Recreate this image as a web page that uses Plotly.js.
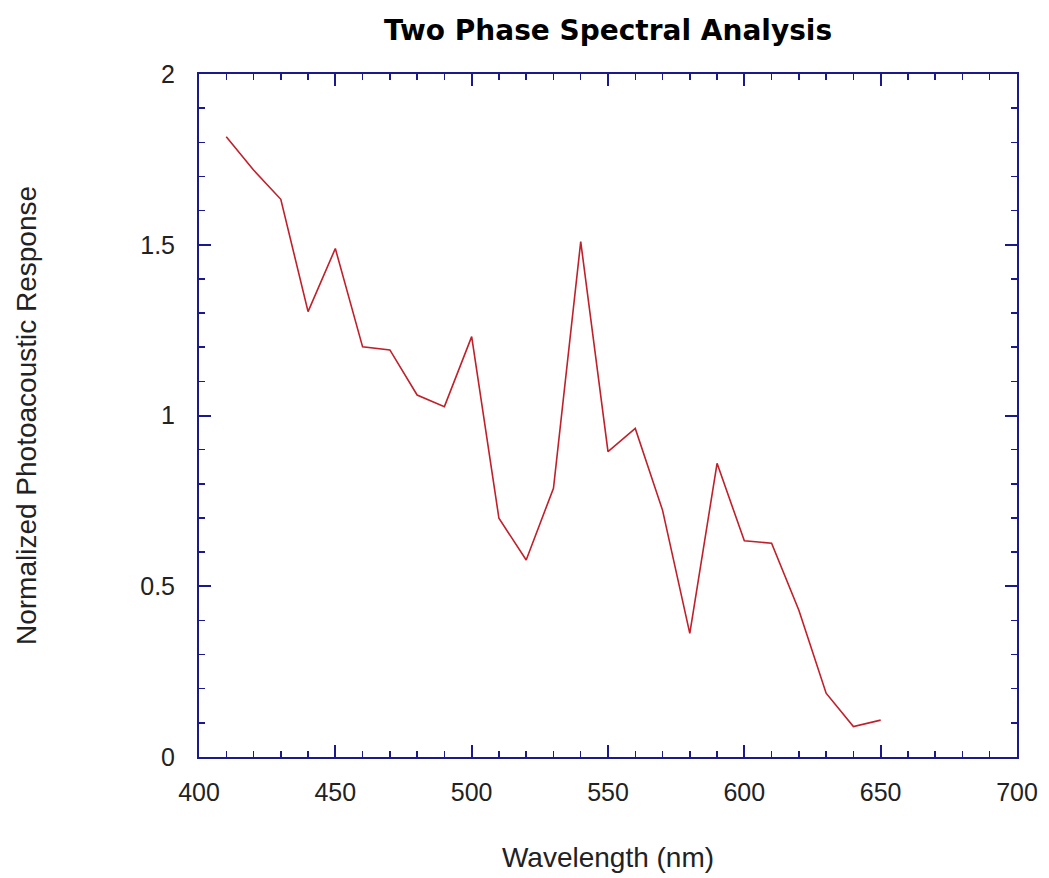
<!DOCTYPE html>
<html>
<head>
<meta charset="utf-8">
<script src="https://cdn.plot.ly/plotly-3.0.1.min.js"></script>
<style>
  html, body { margin: 0; padding: 0; background: #ffffff; }
  #chart { width: 1049px; height: 878px; }
</style>
</head>
<body>
<div id="chart"></div>
<script>
const wavelengths = [410, 420, 430, 440, 450, 460, 470, 480, 490, 500, 510, 520, 530,
                     540, 550, 560, 570, 580, 590, 600, 610, 620, 630, 640, 650];
const response = [1.816, 1.719, 1.633, 1.304, 1.489, 1.201, 1.192, 1.060, 1.026, 1.231,
                  0.699, 0.577, 0.787, 1.509, 0.894, 0.962, 0.723, 0.362, 0.860, 0.633,
                  0.626, 0.430, 0.187, 0.089, 0.108];
const xTickVals = [400, 450, 500, 550, 600, 650, 700];
const yTickVals = [0, 0.5, 1, 1.5, 2];
const yTickText = ['0', '0.5', '1', '1.5', '2'];

const axisColor = '#1a1a8c';
const tickFont = { family: 'Liberation Sans, Arial, sans-serif', size: 25, color: '#222222' };

const trace = {
  x: wavelengths,
  y: response,
  type: 'scatter',
  mode: 'lines',
  line: { color: '#c0202a', width: 1.6 },
  hoverinfo: 'skip'
};

const layout = {
  width: 1049,
  height: 878,
  paper_bgcolor: '#ffffff',
  plot_bgcolor: '#ffffff',
  showlegend: false,
  margin: { l: 199, r: 32, t: 74, b: 121 },
  title: {
    text: 'Two Phase Spectral Analysis',
    font: { family: 'DejaVu Sans, sans-serif', size: 28, color: '#000000', weight: 'bold' },
    x: 0.5, xref: 'paper', xanchor: 'center',
    y: 1 - 30 / 878, yref: 'container', yanchor: 'middle'
  },
  xaxis: {
    range: [400, 700],
    tickmode: 'array',
    tickvals: xTickVals,
    ticktext: xTickVals.map(String),
    ticks: 'inside',
    ticklen: 12,
    tickwidth: 2,
    tickcolor: axisColor,
    minor: { dtick: 10, ticks: 'inside', ticklen: 6, tickwidth: 1.5, tickcolor: axisColor, showgrid: false },
    showline: true,
    linecolor: axisColor,
    linewidth: 2,
    mirror: 'allticks',
    showgrid: false,
    zeroline: false,
    tickfont: tickFont,
    ticklabelstandoff: 12,
    title: {
      text: 'Wavelength (nm)',
      font: { family: 'Liberation Sans, Arial, sans-serif', size: 28, color: '#222222' },
      standoff: 42
    }
  },
  yaxis: {
    range: [0, 2],
    tickmode: 'array',
    tickvals: yTickVals,
    ticktext: yTickText,
    ticks: 'inside',
    ticklen: 12,
    tickwidth: 2,
    tickcolor: axisColor,
    minor: { dtick: 0.1, ticks: 'inside', ticklen: 6, tickwidth: 1.5, tickcolor: axisColor, showgrid: false },
    showline: true,
    linecolor: axisColor,
    linewidth: 2,
    mirror: 'allticks',
    showgrid: false,
    zeroline: false,
    tickfont: tickFont,
    ticklabelstandoff: 17,
    title: {
      text: 'Normalized Photoacoustic Response',
      font: { family: 'Liberation Sans, Arial, sans-serif', size: 28, color: '#222222' },
      standoff: 95
    }
  }
};

Plotly.newPlot('chart', [trace], layout, { displayModeBar: false, staticPlot: true });
</script>
</body>
</html>
